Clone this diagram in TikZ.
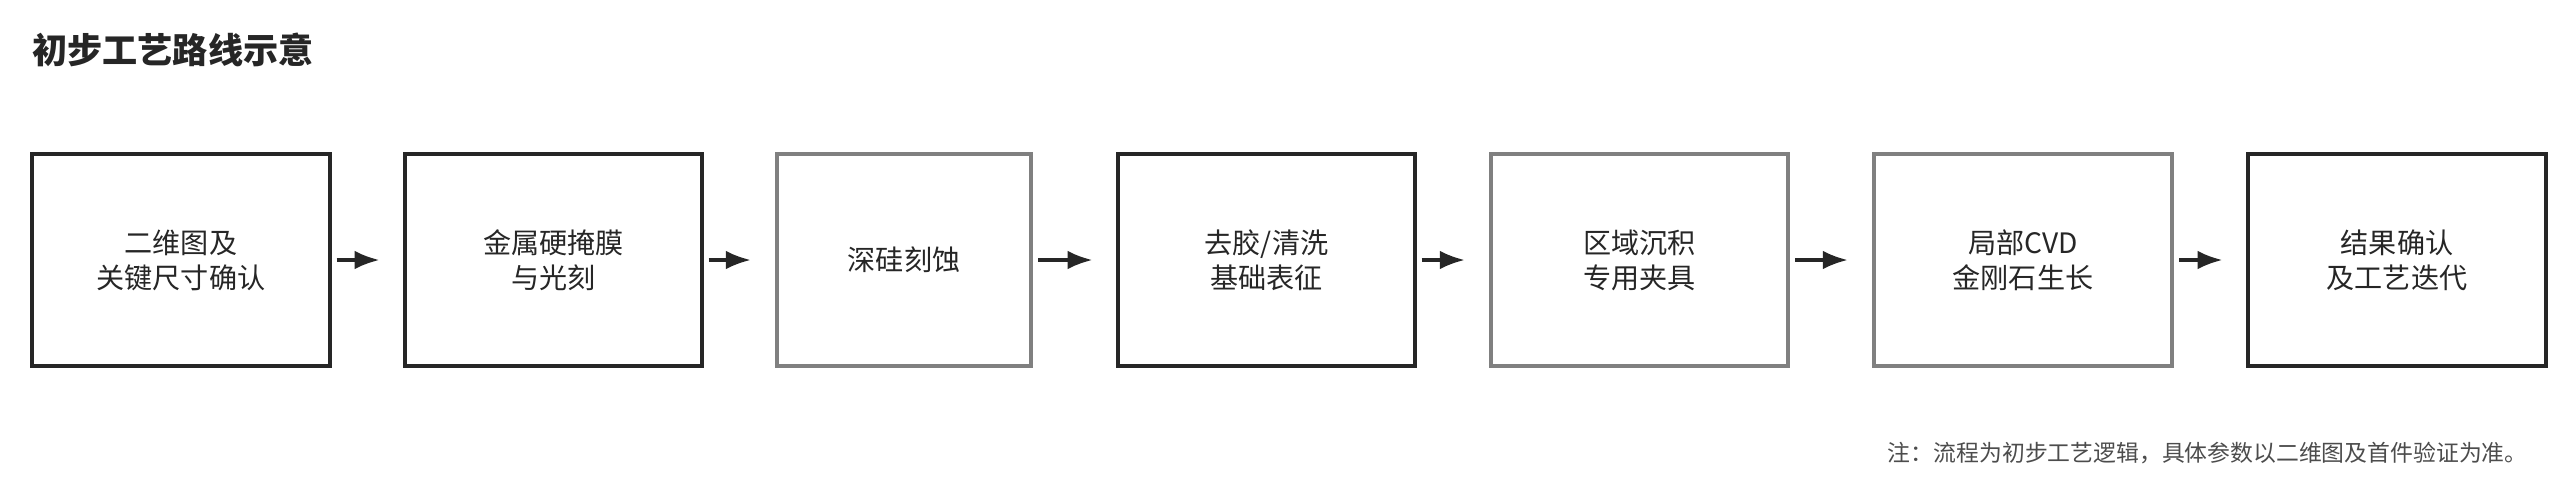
\documentclass[tikz,border=0pt]{standalone}
\usepackage{fontspec}
\setmainfont{Noto Sans CJK SC}
\usetikzlibrary{arrows.meta}
\tikzset{>=Latex}

\begin{document}
\begin{tikzpicture}[
			stage/.style={draw=black!85, line width=0.9pt, minimum height=2.12cm,
				align=center, font=\fontsize{8}{10}\selectfont, text=black!85},
			gray stage/.style={stage, draw=black!50, line width=1.3pt},
			flow/.style={->, line width=0.9pt, black!85, shorten <=0.05cm, shorten >=0.24cm}]
		\useasboundingbox (0,0) rectangle (25.65,-4.93);

		% title
		\node[anchor=west, font=\fontsize{10}{12}\selectfont\bfseries, text=black!85]
			(title) at (0.2,-0.5) {初步工艺路线示意};

		% process steps
		\node[stage, minimum width=2.98cm] (b1) at (1.81,-2.6) {二维图及\\关键尺寸确认};
		\node[stage, minimum width=2.97cm] (b2) at (5.535,-2.6) {金属硬掩膜\\与光刻};
		\node[gray stage, minimum width=2.54cm] (b3) at (9.04,-2.6) {深硅刻蚀};
		\node[stage, minimum width=2.97cm] (b4) at (12.665,-2.6) {去胶/清洗\\基础表征};
		\node[gray stage, minimum width=2.97cm] (b5) at (16.395,-2.6) {区域沉积\\专用夹具};
		\node[gray stage, minimum width=2.98cm] (b6) at (20.23,-2.6) {局部CVD\\金刚石生长};
		\node[stage, minimum width=2.98cm] (b7) at (23.97,-2.6) {结果确认\\及工艺迭代};

		% arrows
		\foreach \i/\j in {b1/b2, b2/b3, b3/b4, b4/b5, b5/b6, b6/b7}
			\draw[flow] (\i) -- (\j);

		% footnote
		\node[anchor=east, font=\fontsize{6.5}{8}\selectfont, text=black!70]
			(note) at (25.4,-4.53) {注：流程为初步工艺逻辑，具体参数以二维图及首件验证为准。};
	\end{tikzpicture}
\end{document}
